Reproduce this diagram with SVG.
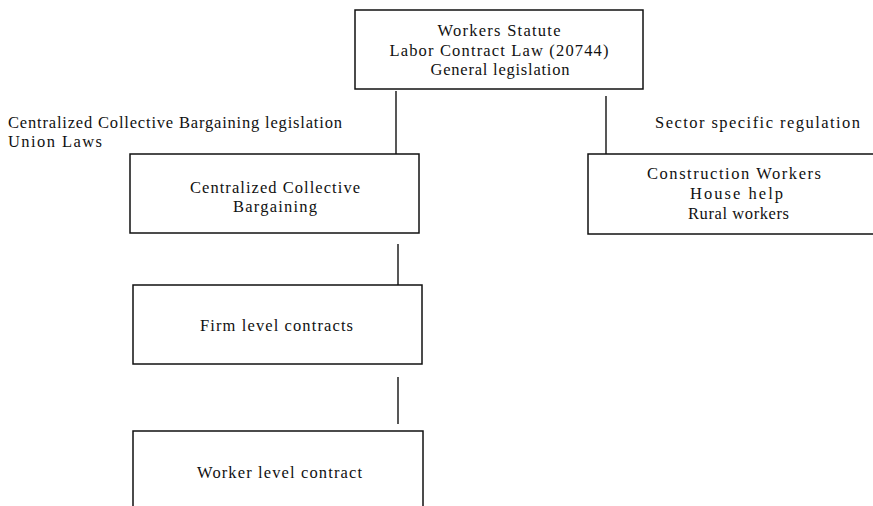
<svg xmlns="http://www.w3.org/2000/svg" width="873" height="506" viewBox="0 0 873 506">
<style>
  .box { fill: #ffffff; stroke: #111111; stroke-width: 1.5; }
  .conn { stroke: #111111; stroke-width: 1.4; fill: none; }
  .t { font-family: 'Liberation Serif', 'DejaVu Serif', serif; font-size: 16.5px; fill: #111111; }
  .c { text-anchor: middle; }
</style>
<rect width="873" height="506" fill="#ffffff"/>
<g id="connectors">
  <line class="conn" x1="396" y1="91" x2="396" y2="154"/>
  <line class="conn" x1="606" y1="96" x2="606" y2="154"/>
  <line class="conn" x1="398" y1="244" x2="398" y2="285"/>
  <line class="conn" x1="398" y1="377" x2="398" y2="424"/>
</g>
<g id="labels" class="t">
  <text x="8" y="128" textLength="334" lengthAdjust="spacing">Centralized Collective Bargaining legislation</text>
  <text x="8" y="147" textLength="94" lengthAdjust="spacing">Union Laws</text>
  <text x="655" y="128" textLength="205" lengthAdjust="spacing">Sector  specific  regulation</text>
</g>
<g id="node-workers-statute" class="t">
  <rect class="box" x="355" y="10" width="288" height="79"/>
  <text class="c" x="499" y="35.5" textLength="123" lengthAdjust="spacing">Workers Statute</text>
  <text class="c" x="499" y="55.5" textLength="219" lengthAdjust="spacing">Labor Contract Law (20744)</text>
  <text class="c" x="500" y="75" textLength="139" lengthAdjust="spacing">General legislation</text>
</g>
<g id="node-centralized" class="t">
  <rect class="box" x="130" y="154" width="289" height="79"/>
  <text class="c" x="275" y="193" textLength="170" lengthAdjust="spacing">Centralized Collective</text>
  <text class="c" x="275" y="212" textLength="84" lengthAdjust="spacing">Bargaining</text>
</g>
<g id="node-sector" class="t">
  <rect class="box" x="588" y="154" width="300" height="80"/>
  <text class="c" x="734" y="179" textLength="174" lengthAdjust="spacing">Construction Workers</text>
  <text class="c" x="736.5" y="199" textLength="93" lengthAdjust="spacing">House help</text>
  <text class="c" x="738.5" y="219" textLength="101" lengthAdjust="spacing">Rural workers</text>
</g>
<g id="node-firm" class="t">
  <rect class="box" x="133" y="285" width="289" height="79"/>
  <text class="c" x="276.5" y="331" textLength="153" lengthAdjust="spacing">Firm level contracts</text>
</g>
<g id="node-worker" class="t">
  <rect class="box" x="133" y="431" width="290" height="100"/>
  <text class="c" x="279.5" y="478" textLength="165" lengthAdjust="spacing">Worker level contract</text>
</g>
</svg>
